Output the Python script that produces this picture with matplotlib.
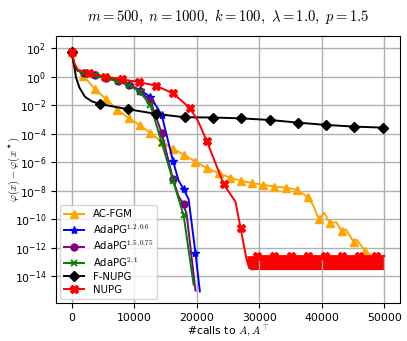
import numpy as np
import matplotlib
matplotlib.use('Agg')
import matplotlib.pyplot as plt
from matplotlib.font_manager import FontProperties

# values are log10(phi(x) - phi(x*))
# AC-FGM
ac_x = [0, 300, 1870, 3720, 5480, 7300, 9100, 10900, 12600, 14400, 16200, 18000, 19800,
        21600, 23500, 25300, 27100, 28900, 30600, 32400, 34200, 36000, 37800, 38700, 39500,
        40400, 41300, 42300, 43200, 43800, 45100, 45600, 46900, 48000]
ac_y = [1.76, 0.9, 0.08, -0.86, -1.56, -2.3, -2.9, -3.4, -3.96, -4.55, -5.05, -5.49, -5.96,
        -6.42, -6.77, -7.08, -7.31, -7.47, -7.59, -7.71, -7.78, -7.94, -8.46, -9.1, -10.0,
        -9.56, -10.28, -10.22, -10.87, -10.7, -11.62, -11.45, -12.25, -12.55]
ac_mk = [0, 2, 3, 4, 5, 6, 7, 8, 9, 10, 11, 12, 13, 14, 15, 16, 17, 18, 19, 20, 21, 22,
         24, 26, 28, 30, 32]

# AdaPG variants
ada1_x = [0, 400, 900, 1900, 3700, 5500, 7400, 9200, 10900, 12600, 14400, 16200, 17100,
          17900, 18700, 19800, 20500]
ada1_y = [1.76, 0.8, 0.45, 0.28, 0.1, -0.08, -0.3, -0.55, -0.93, -1.4, -2.68, -5.91, -7.3,
          -7.89, -8.6, -12.39, -15.08]
ada1_mk = [0, 3, 4, 5, 6, 7, 8, 9, 10, 11, 13, 15]

ada2_x = [0, 400, 900, 1900, 3700, 5500, 7400, 9200, 10900, 12600, 14400, 16200, 17100,
          17900, 18400, 19800]
ada2_y = [1.76, 0.8, 0.45, 0.28, 0.1, -0.08, -0.3, -0.57, -0.98, -1.7, -3.96, -7.19, -8.4,
          -8.96, -9.7, -15.03]
ada2_mk = [0, 3, 4, 5, 6, 7, 8, 9, 10, 11, 13]

ada3_x = [0, 400, 900, 1900, 3700, 5500, 7400, 9200, 10900, 12600, 14400, 16200, 17900,
          19500]
ada3_y = [1.76, 0.8, 0.45, 0.28, 0.1, -0.08, -0.32, -0.6, -1.05, -2.0, -4.62, -7.29, -9.73,
          -14.61]
ada3_mk = [0, 3, 4, 5, 6, 7, 8, 9, 10, 11, 12]

# F-NUPG
fn_x = [0, 370, 690, 1230, 2120, 3200, 4520, 9040, 13560, 18080, 22600, 27120, 31640,
        36160, 40680, 45200, 49720]
fn_y = [1.76, 0.9, -0.03, -0.74, -1.40, -1.72, -1.91, -2.28, -2.61, -2.84, -2.86, -2.92,
        -3.03, -3.22, -3.38, -3.50, -3.57]
fn_mk = [0, 6, 7, 8, 9, 10, 11, 12, 13, 14, 15, 16]

# NUPG
nu_x = [0, 500, 1000, 2700, 5400, 8100, 10800, 13500, 16200, 18900, 20200, 21600, 24300,
        26200, 27000, 27600, 28000, 28400, 28900, 29700, 32400, 35100, 37800, 40500, 43200,
        45900, 48600, 50000]
nu_y = [1.76, 0.9, 0.5, 0.25, 0.02, -0.18, -0.37, -0.63, -1.16, -2.19, -3.1, -4.5, -7.54,
        -8.79, -10.6, -12.0, -12.9, -13.45, -13.55, -12.6, -12.6, -12.6, -12.6, -12.6,
        -12.6, -12.6, -12.6, -12.6]
nu_mk = [0, 3, 4, 5, 6, 7, 8, 9, 11, 12, 14, 19, 20, 21, 22, 23, 24, 25, 26]
# oscillating band of NUPG at the end
band_x = [28000, 28400, 28900, 50000]
band_lo = [-12.9, -13.45, -13.55, -13.55]
band_hi = [-12.57, -12.57, -12.57, -12.57]

plt.rcParams['font.size'] = 7.8
cm = dict(math_fontfamily='cm')

fig = plt.figure(figsize=(4.07, 3.41), dpi=100)
ax = fig.add_axes([0.1376, 0.1114, 0.8452, 0.783])

lw = 1.4
ax.plot(ac_x, 10 ** np.array(ac_y), color='orange', marker='^', markersize=5.5, lw=lw,
        markevery=ac_mk, label='AC-FGM')
ax.plot(ada1_x, 10 ** np.array(ada1_y), color='blue', marker='*', markersize=6, lw=lw,
        markevery=ada1_mk, label=r'AdaPG$^{1.2,0.6}$')
ax.plot(ada2_x, 10 ** np.array(ada2_y), color='purple', marker='o', markersize=5, lw=lw,
        markevery=ada2_mk, label=r'AdaPG$^{1.5,0.75}$')
ax.plot(ada3_x, 10 ** np.array(ada3_y), color='green', marker='x', markersize=5, mew=1.3,
        lw=lw, markevery=ada3_mk, label=r'AdaPG$^{2,1}$')
ax.plot(fn_x, 10 ** np.array(fn_y), color='black', marker='D', markersize=5, lw=lw,
        markevery=fn_mk, label='F-NUPG')
ax.fill_between(band_x, 10 ** np.array(band_lo), 10 ** np.array(band_hi), color='red', lw=0)
ax.plot(nu_x, 10 ** np.array(nu_y), color='red', marker='X', markersize=6, lw=lw,
        markevery=nu_mk, label='NUPG')

ax.set_yscale('log')
ax.set_xlim(-2500, 52500)
ax.set_ylim(10 ** -15.9, 10 ** 2.87)
ax.set_yticks([10.0 ** e for e in range(2, -15, -2)])
ax.minorticks_off()
ax.set_xticks([0, 10000, 20000, 30000, 40000, 50000])
ax.grid(True, color='#b0b0b0', lw=1.0)

ax.set_title(r'$m=500,\ n=1000,\ k=100,\ \lambda=1.0,\ p=1.5$', fontsize=10.5, pad=11, **cm)
ax.set_xlabel(r'#calls to $A, A^\top$', **cm)
ax.set_ylabel(r'$\varphi(x)-\varphi(x^\star)$', **cm)
ax.xaxis.set_label_coords(0.5, -0.078)
ax.yaxis.set_label_coords(-0.1, 0.5)
ax.legend(loc='lower left', prop=FontProperties(size=7.3, math_fontfamily='cm'),
          labelspacing=0.3, borderaxespad=0.4)

plt.savefig('out.png', dpi=100)
